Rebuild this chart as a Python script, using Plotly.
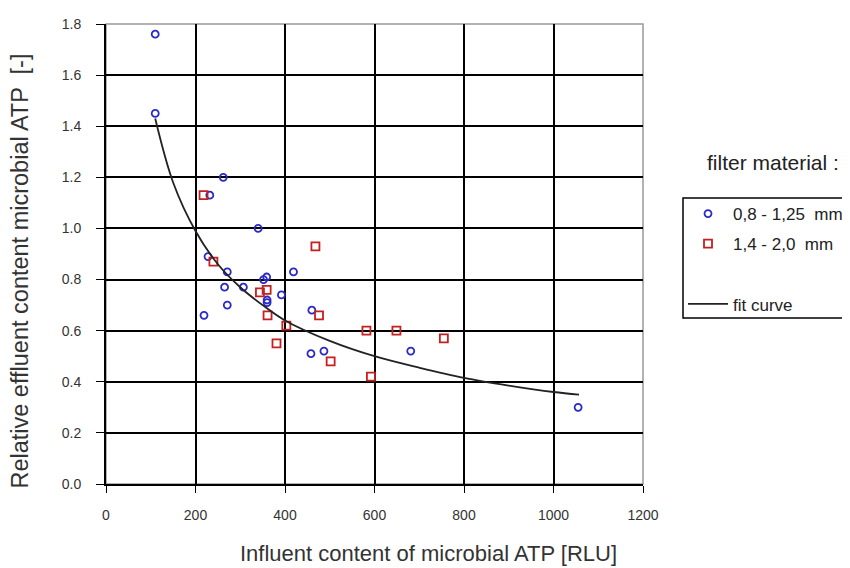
import plotly.graph_objects as go

# filter material 0,8 - 1,25 mm (blue circles)
fine_x = [110, 110, 262, 232, 340, 228, 271, 359, 352, 419, 265, 307, 360, 360,
          392, 271, 219, 460, 458, 487, 681, 1055]
fine_y = [1.76, 1.45, 1.20, 1.13, 1.00, 0.89, 0.83, 0.81, 0.80, 0.83, 0.77, 0.77,
          0.71, 0.72, 0.74, 0.70, 0.66, 0.68, 0.51, 0.52, 0.52, 0.30]

# filter material 1,4 - 2,0 mm (red squares)
coarse_x = [218, 468, 240, 344, 359, 361, 476, 403, 582, 649, 755, 381, 502, 592]
coarse_y = [1.13, 0.93, 0.87, 0.75, 0.76, 0.66, 0.66, 0.62, 0.60, 0.60, 0.57,
            0.55, 0.48, 0.42]

# fit curve
fit_x = [110, 150, 200, 250, 300, 350, 400, 500, 600, 700, 800, 900, 1000, 1057]
fit_y = [1.43, 1.18, 0.99, 0.86, 0.77, 0.70, 0.64, 0.56, 0.50, 0.455, 0.415,
         0.385, 0.36, 0.35]

x_ticks = [0, 200, 400, 600, 800, 1000, 1200]
y_ticks = [0.0, 0.2, 0.4, 0.6, 0.8, 1.0, 1.2, 1.4, 1.6, 1.8]

FONT = "Liberation Sans, Arial, sans-serif"

fig = go.Figure()
fig.add_trace(go.Scatter(
    x=fine_x, y=fine_y, mode="markers", name="0,8 - 1,25  mm",
    legendgroup="a",
    marker=dict(symbol="circle-open", size=7, color="#2a2ac8",
                line=dict(width=1.8, color="#2a2ac8"))))
fig.add_trace(go.Scatter(
    x=coarse_x, y=coarse_y, mode="markers", name="1,4 - 2,0  mm",
    legendgroup="b",
    marker=dict(symbol="square-open", size=8, color="#c42020",
                line=dict(width=1.8, color="#c42020"))))
# empty legend row between the markers and the fit curve
fig.add_trace(go.Scatter(
    x=[None], y=[None], mode="markers", name=" ", legendgroup="c",
    marker=dict(color="rgba(0,0,0,0)", line=dict(width=0))))
fig.add_trace(go.Scatter(
    x=fit_x, y=fit_y, mode="lines", name="fit curve", legendgroup="d",
    line=dict(color="#222222", width=1.8, shape="spline")))

# gray frame on top/right
fig.add_shape(type="rect", xref="paper", yref="paper", x0=0, y0=0, x1=1, y1=1,
              line=dict(color="#999999", width=1.5), layer="below")
# legend frame, running off the right edge of the page
fig.add_shape(type="rect", xref="paper", yref="paper",
              x0=1.0745, y0=0.3609, x1=1.6, y1=0.6217,
              line=dict(color="black", width=1.5), fillcolor="white",
              layer="above")

fig.add_annotation(text="Influent content of microbial ATP [RLU]",
                   xref="paper", yref="paper", x=0.600, y=-0.150,
                   xanchor="center", yanchor="middle", showarrow=False,
                   font=dict(size=22, color="#333333", family=FONT))
fig.add_annotation(text="Relative effluent content microbial ATP  [-]",
                   xref="paper", yref="paper", x=-0.160, y=0.462,
                   xanchor="center", yanchor="middle", showarrow=False,
                   textangle=-90,
                   font=dict(size=23.5, color="#333333", family=FONT))
fig.add_annotation(text="filter material :", xref="paper", yref="paper",
                   x=1.1155, y=0.698, xanchor="left", yanchor="middle",
                   showarrow=False,
                   font=dict(size=21, color="#222222", family=FONT))

fig.update_xaxes(range=[0, 1200], tickvals=x_ticks, showgrid=True,
                 gridcolor="black", gridwidth=1.8, zeroline=False,
                 showline=True, linecolor="black", linewidth=1.8,
                 ticks="outside", ticklen=7, tickcolor="black",
                 ticklabelstandoff=10,
                 tickfont=dict(size=14, color="#333333", family=FONT))
fig.update_yaxes(range=[0, 1.8], tickvals=y_ticks, tickformat=".1f",
                 showgrid=True, gridcolor="black", gridwidth=1.8,
                 zeroline=False, showline=True, linecolor="black", linewidth=1.8,
                 ticks="outside", ticklen=8, tickcolor="black",
                 ticklabelstandoff=12,
                 tickfont=dict(size=14, color="#333333", family=FONT))

# the page body has an 8px margin, so shift the margins to compensate
fig.update_layout(
    width=850, height=568,
    margin=dict(l=98, r=215, t=16, b=92, autoexpand=False),
    plot_bgcolor="white", paper_bgcolor="white",
    showlegend=True,
    legend=dict(x=1.0745, y=0.626, xanchor="left", yanchor="top",
                borderwidth=0, bgcolor="rgba(0,0,0,0)",
                traceorder="grouped", tracegroupgap=5, itemwidth=40,
                font=dict(size=17, color="#222222", family=FONT)),
)

fig.write_html("out.html")
